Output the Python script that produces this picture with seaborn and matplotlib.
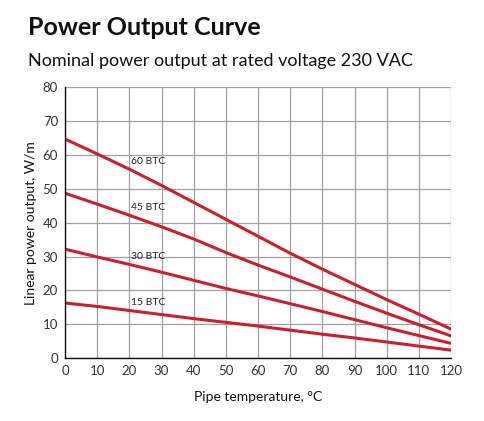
import matplotlib
matplotlib.use("Agg")
import matplotlib.pyplot as plt
import seaborn as sns
import pandas as pd

# pipe temperature, deg C
temps = [0, 10, 20, 30, 40, 50, 60, 70, 80, 90, 100, 110, 120]

# linear power output, W/m
btc_60 = [64.7, 60.3, 55.8, 51.0, 46.0, 41.0, 36.0, 31.0, 26.3, 21.8, 17.3, 13.0, 8.6]
btc_45 = [48.7, 45.5, 42.2, 38.8, 35.2, 31.2, 27.5, 24.0, 20.4, 16.8, 13.3, 9.9, 6.6]
btc_30 = [32.2, 29.9, 27.7, 25.4, 23.0, 20.6, 18.4, 16.1, 13.8, 11.4, 9.0, 6.7, 4.4]
btc_15 = [16.3, 15.3, 14.1, 12.9, 11.7, 10.6, 9.5, 8.3, 7.1, 6.0, 4.8, 3.6, 2.4]

series_names = ["60 BTC", "45 BTC", "30 BTC", "15 BTC"]
series_values = [btc_60, btc_45, btc_30, btc_15]

x_ticks = list(range(0, 121, 10))
y_ticks = list(range(0, 81, 10))

RED = "#c8202f"

df = pd.concat(
    [pd.DataFrame({"temp": temps, "power": vals, "cable": name})
     for name, vals in zip(series_names, series_values)],
    ignore_index=True,
)

sns.set_style("white")
plt.rcParams["font.family"] = ["Lato", "DejaVu Sans"]

fig = plt.figure(figsize=(4.85, 4.21), dpi=100)
ax = fig.add_axes([0.134, 0.149, 0.796, 0.644])

sns.lineplot(data=df, x="temp", y="power", hue="cable",
             palette=[RED] * 4, linewidth=2.2, legend=False, ax=ax)

# series labels just above each line, near 20 C
for name, vals in zip(series_names, series_values):
    ax.annotate(name, xy=(temps[2], vals[2]), xytext=(1, 2.5),
                textcoords="offset points", ha="left", va="bottom",
                fontsize=7.5, color="#222222")

ax.set_xlim(0, 120)
ax.set_ylim(0, 80)
ax.set_xticks(x_ticks)
ax.set_yticks(y_ticks)
ax.grid(True, color="#a0a0a0", linewidth=0.9)
ax.set_axisbelow(True)

for side in ["top", "right"]:
    ax.spines[side].set_visible(False)
for side in ["left", "bottom"]:
    ax.spines[side].set_color("#111111")
    ax.spines[side].set_linewidth(1.0)

ax.tick_params(axis="both", length=3, width=0.8, color="#111111",
               labelsize=9.5, labelcolor="#333333", pad=2)

ax.set_xlabel("Pipe temperature, °C", fontsize=10, color="#111111",
              labelpad=10)
ax.set_ylabel("Linear power output, W/m", fontsize=10, color="#111111",
              labelpad=4)

fig.text(0.058, 0.918, "Power Output Curve", fontsize=18, fontweight="bold",
         color="#111111", va="baseline")
fig.text(0.058, 0.843, "Nominal power output at rated voltage 230 VAC",
         fontsize=13, color="#111111", va="baseline")

fig.savefig("out.png", dpi=100)
